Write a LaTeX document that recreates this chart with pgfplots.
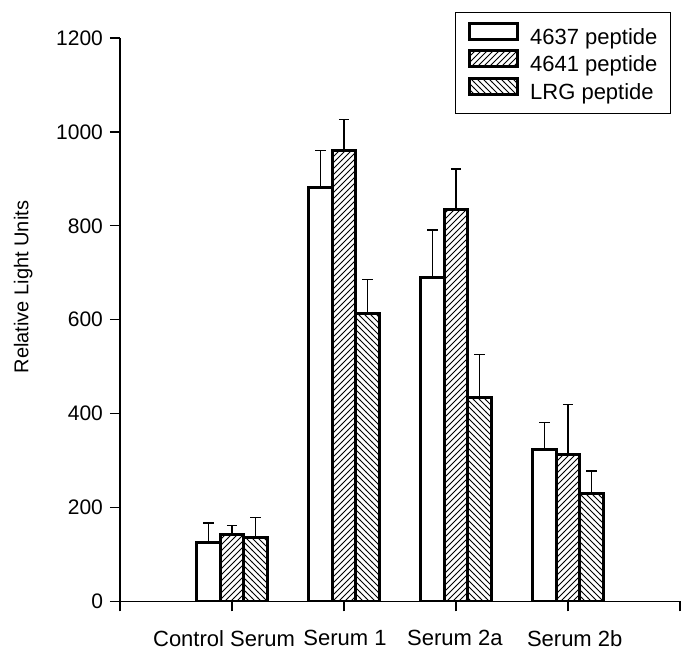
\documentclass[border=0pt]{standalone}
\usepackage{fontspec}
\setmainfont{Liberation Sans}
\usepackage{pgfplots}
\pgfplotsset{compat=1.18}
\usetikzlibrary{patterns}
\begin{document}
\begin{tikzpicture}
\begin{axis}[
  at={(0,0)}, anchor=south west, scale only axis,
  width=280pt, height=281.75pt,
  xmin=0, xmax=5, ymin=0, ymax=1200,
  axis lines*=left,
  axis line style={line width=0.6pt},
  tick align=outside, major tick length=5pt,
  tick style={black, line width=0.6pt},
  xtick={0,1,2,3,4,5},
  xticklabels={},
  extra x ticks={0.929,2.009,2.99,4.06},
  extra x tick labels={Control Serum,Serum 1,Serum 2a,Serum 2b},
  extra x tick style={major tick length=0pt, xticklabel style={yshift=-11pt, font=\fontsize{11}{13}\selectfont}},
  ytick={0,200,...,1200},
  /pgf/number format/assume math mode=true,
  /pgf/number format/1000 sep={},
  yticklabel style={font=\fontsize{10.5}{12}\selectfont},
  ylabel={Relative Light Units},
  ylabel style={font=\fontsize{10}{12}\selectfont},
  every axis y label/.style={at={(rel axis cs:-0.173,0.558)}, rotate=90, anchor=center},
  ybar, bar width=0.21,
  legend style={at={(rel axis cs:0.984,1.046)}, anchor=north east, draw=black, line width=0.6pt,
    font=\fontsize{11}{13}\selectfont, inner xsep=6.5pt, inner ysep=4.5pt, row sep=0pt,
    nodes={inner sep=0pt, text height=8.5pt, text depth=2.5pt},
    /tikz/every odd column/.append style={column sep=5.5pt},
    cells={anchor=west}},
  legend cell align=left,
  mylegend/.style={legend image code/.code={
      \draw[##1, line width=1.5pt] (0pt,-0.5pt) rectangle (24pt,7.5pt);}},
  error bars/y dir=plus, error bars/y explicit,
  error bars/error bar style={line width=0.6pt, black},
  error bars/error mark options={rotate=90, mark size=2.6pt, line width=0.6pt, black},
]
\addplot[draw=black, fill=white, line width=1.5pt, bar shift=-0.21, mylegend]
  coordinates {(1,125) +- (0,42) (2,882) +- (0,78) (3,690) +- (0,101) (4,324) +- (0,57)};
\addlegendentry{4637 peptide}
\addplot[draw=black, fill=white, postaction={pattern=north east lines, pattern color=black}, line width=1.5pt, bar shift=0, mylegend]
  coordinates {(1,142) +- (0,19) (2,961) +- (0,66) (3,835) +- (0,86) (4,314) +- (0,105)};
\addlegendentry{4641 peptide}
\addplot[draw=black, fill=white, postaction={pattern=north west lines, pattern color=black}, line width=1.5pt, bar shift=0.21, mylegend]
  coordinates {(1,137) +- (0,42) (2,614) +- (0,72) (3,435) +- (0,91) (4,231) +- (0,47)};
\addlegendentry{LRG peptide}
\end{axis}
\pgfresetboundingbox
\path (-60pt,-28.25pt) rectangle (283pt,300.75pt);
\end{tikzpicture}
\end{document}
